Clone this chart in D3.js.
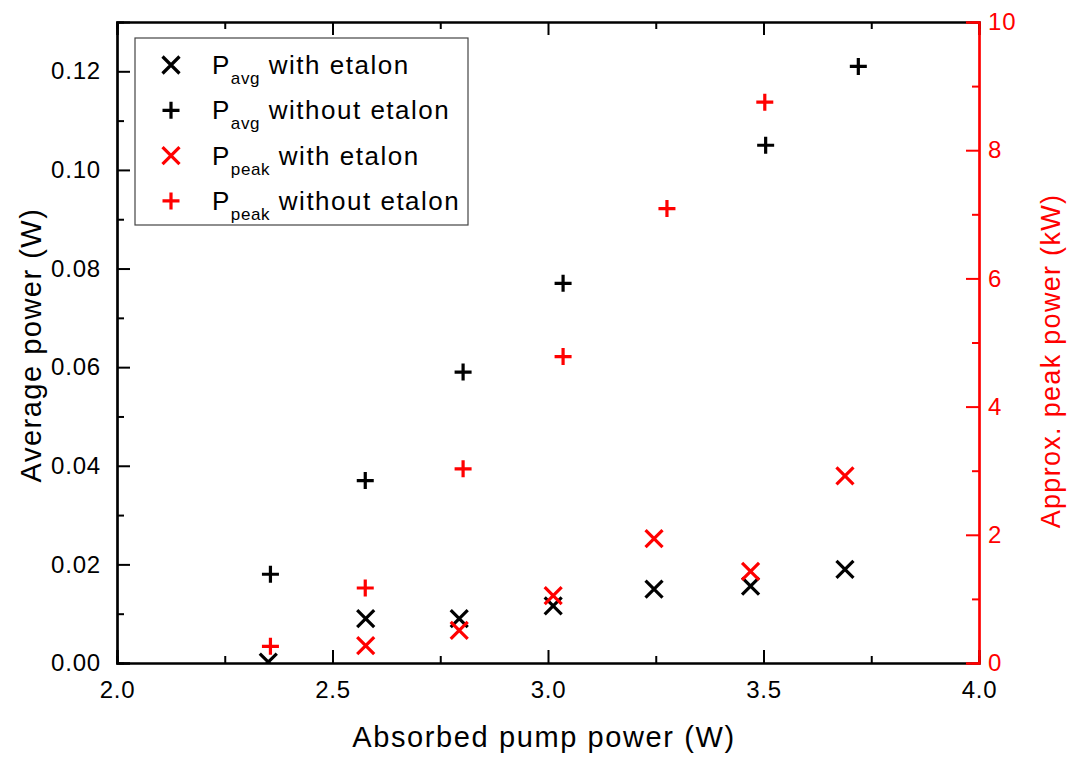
<!DOCTYPE html>
<html>
<head>
<meta charset="utf-8">
<script src="https://cdn.jsdelivr.net/npm/d3@7"></script>
<style>
  body { margin: 0; background: #fff; }
  svg { font-family: "Liberation Sans", Arial, sans-serif; }
</style>
</head>
<body>
<svg id="chart" width="1075" height="758"></svg>
<script>
// data
const pumpAvgWith = [2.351, 2.577, 2.794, 3.012, 3.246, 3.470, 3.689];
const avgWith = [0.0002, 0.009, 0.009, 0.0116, 0.015, 0.0156, 0.019];

const pumpAvgWithout = [2.356, 2.576, 2.803, 3.035, 3.505, 3.720];
const avgWithout = [0.018, 0.037, 0.059, 0.077, 0.105, 0.121];

const pumpPeakWith = [2.577, 2.794, 3.012, 3.246, 3.470, 3.689];
const peakWith = [0.27, 0.51, 1.05, 1.94, 1.43, 2.92];

const pumpPeakWithout = [2.356, 2.576, 2.803, 3.035, 3.276, 3.503];
const peakWithout = [0.26, 1.17, 3.03, 4.78, 7.09, 8.75];

const xTicks = [2.0, 2.5, 3.0, 3.5, 4.0];
const xMinor = [2.25, 2.75, 3.25, 3.75];
const yLeftTicks = [0, 0.02, 0.04, 0.06, 0.08, 0.10, 0.12];
const yLeftMinor = [0.01, 0.03, 0.05, 0.07, 0.09, 0.11];
const yRightTicks = [0, 2, 4, 6, 8, 10];
const yRightMinor = [1, 3, 5, 7, 9];

const legendLabels = [
    { sub: "avg", rest: "with etalon", shape: "x", color: "black" },
    { sub: "avg", rest: "without etalon", shape: "+", color: "black" },
    { sub: "peak", rest: "with etalon", shape: "x", color: "red" },
    { sub: "peak", rest: "without etalon", shape: "+", color: "red" }
];

const margin = { top: 22, right: 96, bottom: 95, left: 117 };
const width = 1075 - margin.left - margin.right;
const height = 758 - margin.top - margin.bottom;

const svg = d3.select("#chart")
    .append("g")
    .attr("transform", `translate(${margin.left},${margin.top})`);

const xScale = d3.scaleLinear().domain([2.0, 4.0]).range([0, width]);
const yLeft = d3.scaleLinear().domain([0, 0.13]).range([height, 0]);
const yRight = d3.scaleLinear().domain([0, 10]).range([height, 0]);

svg.append("clipPath").attr("id", "plotClip")
    .append("rect").attr("width", width).attr("height", height);

function styleAxis(g, color) {
    g.select(".domain").attr("stroke", color).attr("stroke-width", 2.2);
    g.selectAll(".tick line").attr("stroke", color).attr("stroke-width", 2);
    g.selectAll(".tick text")
        .attr("fill", color)
        .style("font-size", "24px")
        .style("letter-spacing", "0.8px");
}

// minor ticks first (no labels)
svg.append("g").attr("transform", `translate(0,${height})`)
    .call(d3.axisBottom(xScale).tickValues(xMinor).tickSize(-7).tickFormat(""))
    .call(g => styleAxis(g, "black"));
svg.append("g")
    .call(d3.axisTop(xScale).tickValues(xMinor).tickSize(-7).tickFormat(""))
    .call(g => styleAxis(g, "black"));
svg.append("g")
    .call(d3.axisLeft(yLeft).tickValues(yLeftMinor).tickSize(-7).tickFormat(""))
    .call(g => styleAxis(g, "black"));

// major ticks
svg.append("g").attr("transform", `translate(0,${height})`)
    .call(d3.axisBottom(xScale).tickValues(xTicks).tickSize(-13).tickPadding(18).tickFormat(d3.format(".1f")))
    .call(g => styleAxis(g, "black"));
svg.append("g")
    .call(d3.axisTop(xScale).tickValues(xTicks).tickSize(-13).tickFormat(""))
    .call(g => styleAxis(g, "black"));
svg.append("g")
    .call(d3.axisLeft(yLeft).tickValues(yLeftTicks).tickSize(-13).tickPadding(16).tickFormat(d3.format(".2f")))
    .call(g => styleAxis(g, "black"));

// right axis in red
svg.append("g").attr("transform", `translate(${width},0)`)
    .call(d3.axisRight(yRight).tickValues(yRightMinor).tickSize(-7).tickFormat(""))
    .call(g => styleAxis(g, "red"));
svg.append("g").attr("transform", `translate(${width},0)`)
    .call(d3.axisRight(yRight).tickValues(yRightTicks).tickSize(-13).tickPadding(9).tickFormat(d3.format("d")))
    .call(g => styleAxis(g, "red"));

// axis titles
svg.append("text")
    .attr("x", width / 2 - 4)
    .attr("y", height + 84)
    .attr("text-anchor", "middle")
    .style("font-size", "29px")
    .style("letter-spacing", "1.6px")
    .text("Absorbed pump power (W)");

svg.append("text")
    .attr("transform", "rotate(-90)")
    .attr("x", -(345 - margin.top))
    .attr("y", -margin.left + 41)
    .attr("text-anchor", "middle")
    .style("font-size", "29px")
    .style("letter-spacing", "1.5px")
    .text("Average power (W)");

svg.append("text")
    .attr("transform", "rotate(-90)")
    .attr("x", -(361 - margin.top))
    .attr("y", width + 81)
    .attr("text-anchor", "middle")
    .attr("fill", "red")
    .style("font-size", "27px")
    .style("letter-spacing", "1.3px")
    .text("Approx. peak power (kW)");

// marker paths
function markerPath(shape) {
    if (shape === "x") return "M-8.5,-8.5L8.5,8.5M-8.5,8.5L8.5,-8.5";
    return "M-8.5,0L8.5,0M0,-8.5L0,8.5";
}

function drawSeries(xs, ys, yScale, shape, color) {
    svg.append("g")
        .attr("clip-path", "url(#plotClip)")
        .selectAll("path")
        .data(xs.map((x, i) => ({ x: x, y: ys[i] })))
        .join("path")
        .attr("transform", d => `translate(${xScale(d.x)},${yScale(d.y)})`)
        .attr("d", markerPath(shape))
        .attr("stroke", color)
        .attr("stroke-width", 3.2)
        .attr("fill", "none");
}

drawSeries(pumpAvgWith, avgWith, yLeft, "x", "black");
drawSeries(pumpAvgWithout, avgWithout, yLeft, "+", "black");
drawSeries(pumpPeakWith, peakWith, yRight, "x", "red");
drawSeries(pumpPeakWithout, peakWithout, yRight, "+", "red");

// legend
const legend = svg.append("g").attr("transform", "translate(18,16)");
legend.append("rect")
    .attr("width", 333)
    .attr("height", 187)
    .attr("fill", "white")
    .attr("stroke", "#444")
    .attr("stroke-width", 1.2);

legendLabels.forEach((item, i) => {
    const row = legend.append("g").attr("transform", `translate(0,${27 + i * 45.3})`);
    row.append("path")
        .attr("transform", "translate(36,0)")
        .attr("d", markerPath(item.shape))
        .attr("stroke", item.color)
        .attr("stroke-width", 3.2)
        .attr("fill", "none");
    const t = row.append("text")
        .attr("x", 77)
        .attr("y", 9)
        .style("font-size", "26px")
        .style("letter-spacing", "1.5px");
    t.append("tspan").text("P");
    t.append("tspan").attr("dy", 10).style("font-size", "17px").style("letter-spacing", "0.6px").text(item.sub);
    t.append("tspan").attr("dy", -10).text(" " + item.rest);
});
</script>
</body>
</html>
